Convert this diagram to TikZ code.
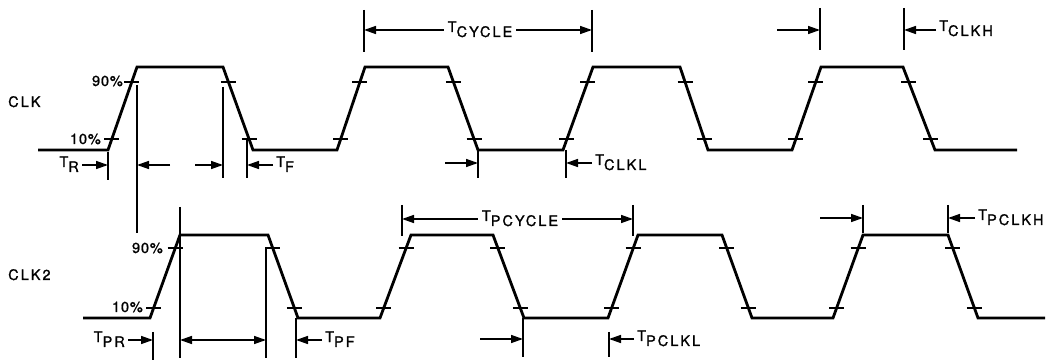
\documentclass[tikz,border=0pt]{standalone}
\usepackage{fontspec}
\setmainfont{TeX Gyre Heros}[FakeBold=1.2]
\usetikzlibrary{arrows.meta,calc}
\newcommand{\tsub}[1]{T\raisebox{-5pt}{#1}}
\begin{document}
\begin{tikzpicture}[x=1pt,y=-1pt,
  wave/.style={line width=2.8pt,line join=miter},
  tickmark/.style={line width=2pt},
  dimline/.style={line width=1.5pt},
  dimarrow/.style={line width=1.5pt,-{Triangle[length=12pt,width=8pt]}},
  dimboth/.style={line width=1.5pt,{Triangle[length=12pt,width=8pt]}-{Triangle[length=12pt,width=8pt]}},
  lbl/.style={font=\fontsize{14.5}{18}\selectfont\addfontfeature{LetterSpace=14},inner sep=0pt},
  pct/.style={font=\fontsize{14.5}{18}\selectfont\addfontfeature{LetterSpace=6},inner sep=0pt}
]
\useasboundingbox (0,0) rectangle (1055,363);

% ---------- CLK waveform ----------
\coordinate (a0) at (38,150);  \coordinate (a1) at (108,150);
\coordinate (a2) at (137,67);  \coordinate (a3) at (223,67);
\coordinate (a4) at (253,150); \coordinate (a5) at (337,150);
\coordinate (a6) at (365,67);  \coordinate (a7) at (448,67);
\coordinate (a8) at (478,150); \coordinate (a9) at (563,150);
\coordinate (a10) at (593,67); \coordinate (a11) at (680,67);
\coordinate (a12) at (708,150);\coordinate (a13) at (792,150);
\coordinate (a14) at (821,67); \coordinate (a15) at (903,67);
\coordinate (a16) at (935,150);\coordinate (a17) at (1017,150);
\draw[wave] (a0)--(a1)--(a2)--(a3)--(a4)--(a5)--(a6)--(a7)--(a8)--(a9)--(a10)--(a11)--(a12)--(a13)--(a14)--(a15)--(a16)--(a17);
\foreach \l/\h in {a1/a2,a4/a3,a5/a6,a8/a7,a9/a10,a12/a11,a13/a14,a16/a15}{
  \draw[tickmark] ($(\l)!0.13!(\h)$) +(-7.5,0) -- +(7.5,0);
  \draw[tickmark] ($(\l)!0.82!(\h)$) +(-7.5,0) -- +(7.5,0);
}

% ---------- CLK2 waveform ----------
\coordinate (b0) at (83,318);  \coordinate (b1) at (150,318);
\coordinate (b2) at (180,235); \coordinate (b3) at (268,235);
\coordinate (b4) at (298,318); \coordinate (b5) at (380,318);
\coordinate (b6) at (411,235); \coordinate (b7) at (493,235);
\coordinate (b8) at (524,318); \coordinate (b9) at (608,318);
\coordinate (b10) at (638,235);\coordinate (b11) at (722,235);
\coordinate (b12) at (752,318);\coordinate (b13) at (833,318);
\coordinate (b14) at (863,235);\coordinate (b15) at (948,235);
\coordinate (b16) at (978,318);\coordinate (b17) at (1045,318);
\draw[wave] (b0)--(b1)--(b2)--(b3)--(b4)--(b5)--(b6)--(b7)--(b8)--(b9)--(b10)--(b11)--(b12)--(b13)--(b14)--(b15)--(b16)--(b17);
\foreach \l/\h in {b1/b2,b4/b3,b5/b6,b8/b7,b9/b10,b12/b11,b13/b14,b16/b15}{
  \draw[tickmark] ($(\l)!0.12!(\h)$) +(-7.5,0) -- +(7.5,0);
  \draw[tickmark] ($(\l)!0.84!(\h)$) +(-7.5,0) -- +(7.5,0);
}

% ---------- side labels ----------
\node[lbl,anchor=base west] (clk) at (8,107) {CLK};
\node[lbl,anchor=base west] (clk2) at (8,280) {CLK2};
\node[pct,anchor=base east] (p90a) at (123,86) {90\%};
\node[pct,anchor=base east] (p10a) at (101,144) {10\%};
\node[pct,anchor=base east] (p90b) at (163,253) {90\%};
\node[pct,anchor=base east] (p10b) at (143,312) {10\%};

% ---------- CLK dimensions ----------
% T_R
\draw[dimline] (108,152) -- (108,180);
\coordinate (trv) at (108,165);
\node[lbl,anchor=base east] (tr) at (79,167) {\tsub{R}};
\draw[dimarrow] ([xshift=3pt]tr.east |- trv) -- (trv);
% high-time markers
\draw[dimline] (137,85) -- (137,233);
\draw[dimline] (223,87) -- (223,178);
\coordinate (hl) at (137,165); \coordinate (hlf) at (170,165);
\coordinate (hr) at (223,165); \coordinate (hrf) at (195,165);
\draw[dimarrow] (hlf) -- (hl);
\draw[dimarrow] (hrf) -- (hr);
% T_F
\draw[dimline] (247,138) -- (247,178);
\coordinate (tfv) at (247,165);
\node[lbl,anchor=base west] (tf) at (276,167) {\tsub{F}};
\draw[dimarrow] ([xshift=-3pt]tf.west |- tfv) -- (tfv);
% T_CYCLE
\draw[dimline] (364,10) -- (364,52);
\draw[dimline] (592,10) -- (592,52);
\coordinate (tcl) at (364,30); \coordinate (tcr) at (592,30);
\node[lbl,anchor=base] (tc) at (480,32) {\tsub{CYCLE}};
\draw[dimarrow] ([xshift=-4pt]tc.west |- tcl) -- (tcl);
\draw[dimarrow] ([xshift=4pt]tc.east |- tcr) -- (tcr);
% T_CLKL
\draw[dimline] (478,148) -- (478,178);
\draw[dimline] (566,150) -- (566,178);
\coordinate (tll) at (478,163); \coordinate (tllf) at (445,163);
\coordinate (tlr) at (566,163);
\draw[dimarrow] (tllf) -- (tll);
\node[lbl,anchor=base west] (tl) at (595,165) {\tsub{CLKL}};
\draw[dimarrow] ([xshift=-3pt]tl.west |- tlr) -- (tlr);
% T_CLKH
\draw[dimline] (820,8) -- (820,50);
\draw[dimline] (904,8) -- (904,50);
\coordinate (thl) at (820,30); \coordinate (thlf) at (777,30);
\coordinate (thr) at (904,30);
\draw[dimarrow] (thlf) -- (thl);
\node[lbl,anchor=base west] (th) at (939,31) {\tsub{CLKH}};
\draw[dimarrow] ([xshift=-3pt]th.west |- thr) -- (thr);

% ---------- CLK2 dimensions ----------
% T_PR
\draw[dimline] (153,332) -- (153,360);
\coordinate (tprv) at (153,340);
\node[lbl,anchor=base east] (tpr) at (125,342) {\tsub{PR}};
\draw[dimarrow] ([xshift=3pt]tpr.east |- tprv) -- (tprv);
% high-time double arrow
\draw[dimline] (180,207) -- (180,358);
\draw[dimline] (266,248) -- (266,358);
\coordinate (pwl) at (180,340); \coordinate (pwr) at (266,340);
\draw[dimboth] (pwl) -- (pwr);
% T_PF
\draw[dimline] (296,318) -- (296,358);
\coordinate (tpfv) at (296,340);
\node[lbl,anchor=base west] (tpf) at (325,342) {\tsub{PF}};
\draw[dimarrow] ([xshift=-3pt]tpf.west |- tpfv) -- (tpfv);
% T_PCYCLE
\draw[dimline] (402,205) -- (402,236);
\draw[dimline] (633,205) -- (633,236);
\coordinate (tpcl) at (402,219); \coordinate (tpcr) at (633,219);
\node[lbl,anchor=base] (tpc) at (520,221) {\tsub{PCYCLE}};
\draw[dimarrow] ([xshift=-4pt]tpc.west |- tpcl) -- (tpcl);
\draw[dimarrow] ([xshift=4pt]tpc.east |- tpcr) -- (tpcr);
% T_PCLKL
\draw[dimline] (523,318) -- (523,357);
\draw[dimline] (609,332) -- (609,357);
\coordinate (tpll) at (523,339); \coordinate (tpllf) at (480,339);
\coordinate (tplr) at (609,339);
\draw[dimarrow] (tpllf) -- (tpll);
\node[lbl,anchor=base west] (tpl) at (637,341) {\tsub{PCLKL}};
\draw[dimarrow] ([xshift=-3pt]tpl.west |- tplr) -- (tplr);
% T_PCLKH
\draw[dimline] (863,205) -- (863,233);
\draw[dimline] (948,205) -- (948,233);
\coordinate (tphl) at (863,218); \coordinate (tphlf) at (820,218);
\coordinate (tphr) at (948,218);
\draw[dimarrow] (tphlf) -- (tphl);
\node[lbl,anchor=base west] (tph) at (978,220) {\tsub{PCLKH}};
\draw[dimarrow] ([xshift=-3pt]tph.west |- tphr) -- (tphr);
\end{tikzpicture}
\end{document}
